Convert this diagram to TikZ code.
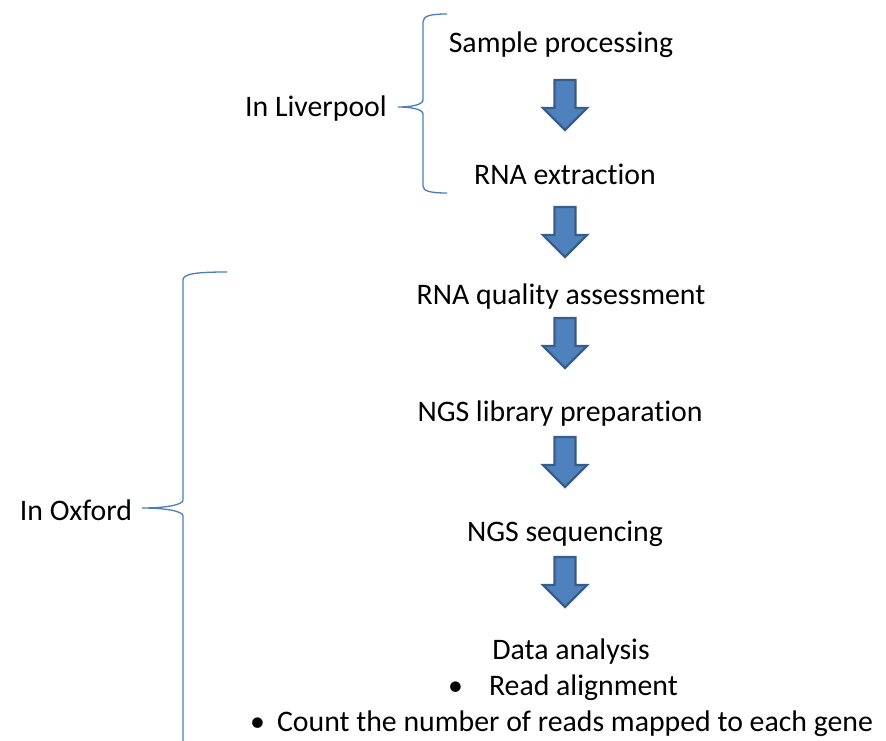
\documentclass[tikz,border=0pt]{standalone}
\usepackage{fontspec}
\setmainfont{Carlito}[Ligatures=NoCommon]
\tikzset{
  txt/.style={inner sep=0pt, anchor=base, font=\fontsize{29.8}{36}\selectfont, text=black},
  brace/.style={draw=braceblue, line width=1.3pt},
  pics/blockarrow/.style={code={
    \filldraw[fill=arrowfill, draw=arrowdraw, line width=2.2pt, line join=miter]
      (-10.5,0) -- (10.5,0) -- (10.5,28) -- (22,28) -- (0,50) -- (-22,28) -- (-10.5,28) -- cycle;
  }}
}
\definecolor{arrowfill}{HTML}{4F81BD}
\definecolor{arrowdraw}{HTML}{385D8A}
\definecolor{braceblue}{HTML}{4A7EBB}
\begin{document}
\begin{tikzpicture}[x=1pt,y=-1pt]
\useasboundingbox (0,0) rectangle (886,741);
\node[txt] (s1) at (561,53) {Sample processing};
\node[txt] (s2) at (565,184) {RNA extraction};
\node[txt] (s3) at (561,304) {RNA quality assessment};
\node[txt] (s4) at (560,421) {NGS library preparation};
\node[txt] (s5) at (565,541) {NGS sequencing};
\node[txt] (s6) at (571,659) {Data analysis};
\node[txt, anchor=base west] (s7) at (448,695) {\textbullet\hspace{26pt}Read alignment};
\node[txt, anchor=base west] (s8) at (250,731) {\textbullet\hspace{12pt}Count the number of reads mapped to each gene};
\node[txt] (liv) at (316,117) {In Liverpool};
\node[txt] (oxf) at (76,520) {In Oxford};

\pic at (565,80) {blockarrow};
\pic at (565,207) {blockarrow};
\pic at (565,318) {blockarrow};
\pic at (565,437) {blockarrow};
\pic at (565,557) {blockarrow};

\coordinate (lt) at (447,14);
\coordinate (lb) at (447,193);
\coordinate (ltip) at (398,107);
\draw[brace] (lt) .. controls (430,14) and (423,16) .. (423,22) -- (423,100)
  .. controls (423,105) and (410,107) .. (ltip)
  .. controls (410,107) and (423,109) .. (423,114) -- (423,186)
  .. controls (423,191) and (430,193) .. (lb);

\coordinate (ot) at (227,272);
\coordinate (otip) at (142,508);
\draw[brace] (ot) .. controls (195,272) and (183,274) .. (183,280) -- (183,500)
  .. controls (183,505) and (165,508) .. (otip)
  .. controls (165,508) and (183,511) .. (183,516) -- (183,741);
\end{tikzpicture}
\end{document}
